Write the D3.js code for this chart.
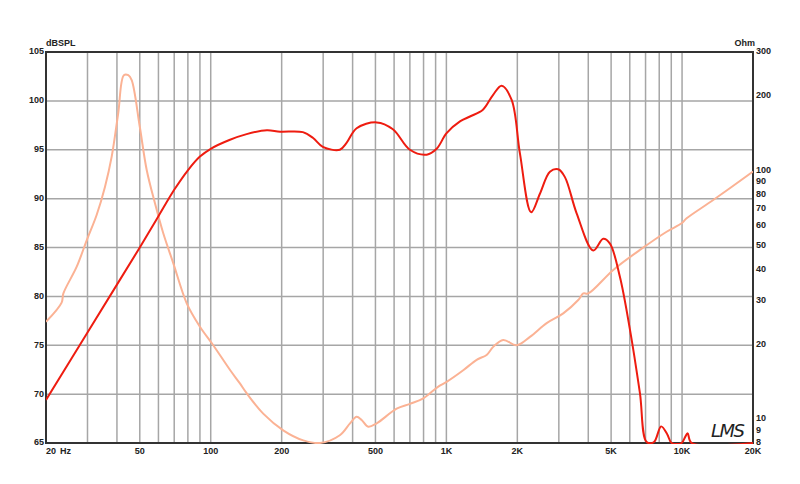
<!DOCTYPE html>
<html>
<head>
<meta charset="utf-8">
<script src="https://cdn.jsdelivr.net/npm/d3@7"></script>
<style>
  body { margin: 0; background: #fff; }
  text { font-family: "Liberation Sans", Arial, sans-serif; font-size: 9px; font-weight: bold; fill: #222; }
</style>
</head>
<body>
<div id="chart"></div>
<script>
// frequency response (Hz, dB SPL)
const splData = [
  [20,69.4],[30,76.3],[40,81.2],[50,85.0],[60,88.2],[70,90.9],[80,92.9],[90,94.3],[100,95.1],
  [120,96.0],[142,96.6],[173,97.0],[197,96.85],[246,96.8],[272,96.2],[299,95.3],[353,95.0],
  [377,95.7],[416,97.2],[506,97.8],[593,97.1],[700,95.0],[825,94.5],[909,95.1],[1002,96.7],
  [1142,97.9],[1259,98.4],[1429,99.1],[1576,100.6],[1716,101.55],[1892,100.1],[2052,94.6],
  [2290,88.6],[2494,90.5],[2750,92.75],[2982,93.0],[3184,92.2],[3570,88.5],
  [4198,84.7],[4630,85.9],[4944,85.4],[5448,82.0],[6010,76.6],[6626,70.1],[7074,65.1],
  [7600,65.1],[8150,66.7],[8650,65.9],[9032,65.0],[9958,65.0],[10300,65.6],[10558,66.0],
  [10980,65.0],[20000,65.0]
];

// impedance (Hz, Ohm)
const impData = [
  [20,24.6],[23.3,29.4],[23.7,32.0],[27.0,41.0],[29.8,52.5],[32.8,66.2],[35.6,86.1],[38.0,113.7],
  [40.5,170],[42.8,242],[44.7,242],[46.2,231],[50,150],[53.5,100.5],[58.0,73.8],[62.9,55.9],
  [69.4,42.3],[79.1,29.2],[90,23.5],[102.5,19.8],[121,15.7],[133,13.9],[142,12.7],[167,10.5],
  [203,9.0],[247,8.2],[291,8.0],[353,8.6],[390,9.6],[416,10.2],[437,9.9],[466,9.3],[506,9.6],
  [615,11.0],[700,11.5],[798,12.1],[924,13.5],[1002,14.1],[1179,15.7],[1344,17.3],[1482,18.1],
  [1580,19.5],[1742,20.8],[1986,19.8],[2262,21.4],[2664,24.3],[3132,26.6],[3626,30.1],
  [3808,32.0],[3998,32.0],[5106,39.8],[6626,47.9],[8600,56.7],[9958,61.3],[10456,64.2],
  [13560,76.1],[20000,99.0]
];

const xGrid = [30,40,50,60,70,80,90,100,200,300,400,500,600,700,800,900,1000,2000,3000,4000,5000,6000,7000,8000,9000,10000];
const xLabels = [[50,"50"],[100,"100"],[200,"200"],[500,"500"],[1000,"1K"],[2000,"2K"],[5000,"5K"],[10000,"10K"],[20000,"20K"]];
const dbTicks = [65,70,75,80,85,90,95,100,105];
const ohmTicks = [8,9,10,20,30,40,50,60,70,80,90,100,200,300];

const margin = {top: 52, right: 47, bottom: 41, left: 46},
      width = 800 - margin.left - margin.right,
      height = 484 - margin.top - margin.bottom;

const svg = d3.select("#chart")
  .append("svg")
    .attr("width", 800)
    .attr("height", 484)
  .append("g")
    .attr("transform", `translate(${margin.left}, ${margin.top})`);

svg.append("clipPath").attr("id", "plot")
  .append("rect").attr("x", 0).attr("y", -2).attr("width", width).attr("height", height + 3);

const x = d3.scaleLog().domain([20, 20000]).range([0, width]);
const y = d3.scaleLinear().domain([65, 105]).range([height, 0]);
const yOhm = d3.scaleLog().domain([8, 300]).range([height, 0]);

// grid
svg.append("g")
  .selectAll("line")
  .data(xGrid)
  .join("line")
    .attr("x1", d => x(d)).attr("x2", d => x(d))
    .attr("y1", 0).attr("y2", height)
    .attr("stroke", "#a6a6a6").attr("stroke-width", 1.5);

svg.append("g")
  .selectAll("line")
  .data(dbTicks.slice(1, -1))
  .join("line")
    .attr("x1", 0).attr("x2", width)
    .attr("y1", d => y(d)).attr("y2", d => y(d))
    .attr("stroke", "#a6a6a6").attr("stroke-width", 1.5);

// frame
svg.append("rect")
  .attr("width", width).attr("height", height)
  .attr("fill", "none").attr("stroke", "#333").attr("stroke-width", 2);

// left labels
svg.append("g")
  .selectAll("text")
  .data(dbTicks)
  .join("text")
    .attr("x", -2).attr("y", d => y(d))
    .attr("text-anchor", "end").attr("dominant-baseline", "middle")
    .text(d => d);

// right labels
svg.append("g")
  .selectAll("text")
  .data(ohmTicks)
  .join("text")
    .attr("x", width + 3).attr("y", d => yOhm(d))
    .attr("dominant-baseline", "middle")
    .text(d => d);

// bottom labels
svg.append("g")
  .selectAll("text")
  .data(xLabels)
  .join("text")
    .attr("x", d => x(d[0])).attr("y", height + 9)
    .attr("text-anchor", "middle").attr("dominant-baseline", "middle")
    .text(d => d[1]);

svg.append("text").attr("x", 0).attr("y", height + 9)
  .attr("dominant-baseline", "middle").text("20");
svg.append("text").attr("x", 14).attr("y", height + 9)
  .attr("dominant-baseline", "middle").text("Hz");

svg.append("text").attr("x", 0).attr("y", -6).text("dBSPL");
svg.append("text").attr("x", width + 2).attr("y", -6).attr("text-anchor", "end").text("Ohm");

// logo
svg.append("text")
  .attr("x", width - 42).attr("y", height - 6)
  .style("font-family", "DejaVu Sans, sans-serif")
  .style("font-size", "18px").style("font-weight", "normal").style("font-style", "italic")
  .attr("textLength", 34)
  .text("LMS");

// curves
const curves = svg.append("g").attr("clip-path", "url(#plot)");

curves.append("path")
  .datum(impData)
  .attr("fill", "none")
  .attr("stroke", "#fbb294")
  .attr("stroke-width", 2)
  .attr("d", d3.line()
    .x(d => x(d[0]))
    .y(d => yOhm(d[1]))
    .curve(d3.curveCatmullRom.alpha(0.5)));

curves.append("path")
  .datum(splData)
  .attr("fill", "none")
  .attr("stroke", "#ee1c10")
  .attr("stroke-width", 2)
  .attr("d", d3.line()
    .x(d => x(d[0]))
    .y(d => y(d[1]))
    .curve(d3.curveCatmullRom.alpha(0.5)));
</script>
</body>
</html>
